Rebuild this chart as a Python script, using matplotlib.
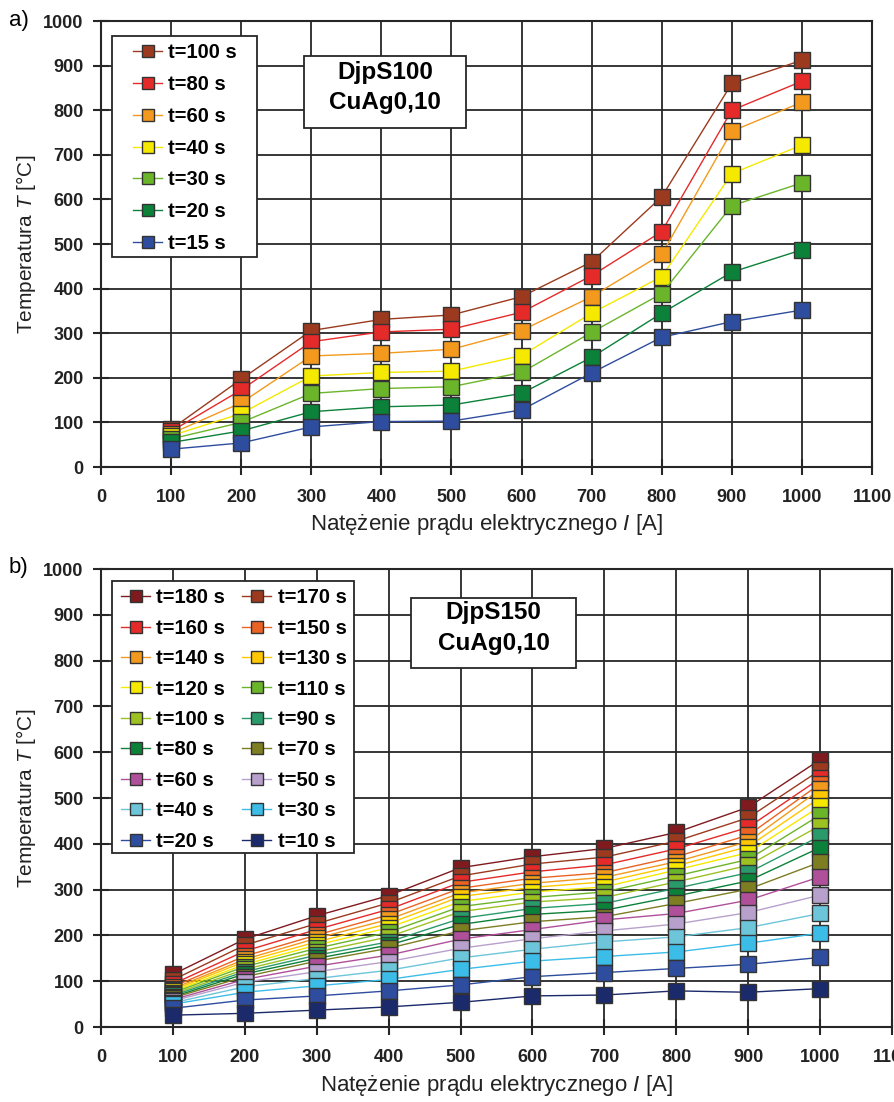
import matplotlib
matplotlib.use('Agg')
import matplotlib.pyplot as plt
from matplotlib.patches import Rectangle
from matplotlib import font_manager

# current values (A)
current = [100, 200, 300, 400, 500, 600, 700, 800, 900, 1000]

# panel a) DjpS100 CuAg0,10
labels_a = ['t=100 s', 't=80 s', 't=60 s', 't=40 s', 't=30 s', 't=20 s', 't=15 s']
temps_a = [
    [85, 197, 306, 331, 341, 382, 460, 606, 860, 912],
    [80, 173, 281, 303, 309, 347, 429, 528, 800, 865],
    [75, 144, 249, 255, 264, 306, 382, 477, 753, 818],
    [70, 120, 204, 212, 215, 250, 345, 427, 658, 722],
    [63, 100, 165, 176, 180, 212, 302, 389, 586, 637],
    [55, 81, 124, 135, 139, 165, 246, 345, 437, 487],
    [40, 54, 90, 102, 103, 128, 211, 291, 326, 352],
]
colors_a = ['#9B3A1E', '#E52A2A', '#F39A1E', '#F5E900', '#6BB52A', '#0B8139', '#2E4D9E']

# panel b) DjpS150 CuAg0,10
labels_b = ['t=180 s', 't=170 s', 't=160 s', 't=150 s', 't=140 s', 't=130 s',
            't=120 s', 't=110 s', 't=100 s', 't=90 s', 't=80 s', 't=70 s',
            't=60 s', 't=50 s', 't=40 s', 't=30 s', 't=20 s', 't=10 s']
temps_b = [
    [115, 192, 243, 287, 348, 372, 390, 425, 480, 584],
    [103, 179, 226, 271, 330, 356, 371, 406, 457, 561],
    [94, 166, 213, 257, 316, 339, 354, 389, 436, 543],
    [88, 155, 201, 245, 303, 325, 337, 372, 419, 531],
    [84, 148, 194, 235, 293, 314, 327, 361, 405, 519],
    [81, 143, 186, 226, 285, 305, 317, 352, 394, 501],
    [78, 137, 179, 217, 274, 295, 306, 343, 381, 482],
    [75, 132, 172, 207, 263, 283, 295, 330, 366, 463],
    [72, 126, 164, 197, 252, 273, 283, 317, 353, 440],
    [69, 121, 157, 186, 237, 259, 270, 303, 337, 417],
    [66, 116, 150, 179, 224, 246, 255, 286, 319, 392],
    [64, 110, 144, 172, 210, 230, 241, 270, 301, 360],
    [60, 104, 133, 157, 192, 213, 234, 248, 277, 328],
    [57, 98, 121, 143, 172, 193, 210, 225, 250, 288],
    [53, 88, 106, 124, 151, 170, 186, 197, 217, 248],
    [50, 76, 90, 104, 126, 144, 154, 164, 183, 205],
    [41, 59, 68, 79, 92, 110, 119, 128, 137, 152],
    [26, 30, 37, 44, 54, 68, 70, 79, 76, 84],
]
colors_b = ['#7F1A1E', '#9B3A1E', '#E52A2A', '#EB6322', '#F39A1E', '#FFC700',
            '#F5E900', '#6BB52A', '#9DC121', '#2A9A6A', '#0B8139', '#7D7D22',
            '#B0509A', '#B8A0CC', '#6CC5D8', '#3CBDE8', '#2E4D9E', '#1B2A6B']

xticks = list(range(0, 1200, 100))
yticks = list(range(0, 1100, 100))

names = {f.name for f in font_manager.fontManager.ttflist}
narrow = 'Liberation Sans Narrow' if 'Liberation Sans Narrow' in names else 'Liberation Sans'

plt.rcParams['font.family'] = ['Liberation Sans', 'DejaVu Sans']
plt.rcParams['mathtext.fontset'] = 'custom'
plt.rcParams['mathtext.rm'] = narrow
plt.rcParams['mathtext.it'] = narrow + ':italic'

GRID = '#262626'

fig = plt.figure(figsize=(8.94, 11.02), dpi=100)


def style_axes(ax):
    ax.set_xlim(0, 1100)
    ax.set_ylim(0, 1000)
    ax.set_xticks(xticks)
    ax.set_yticks(yticks)
    ax.grid(True, color=GRID, linewidth=1.3)
    ax.set_axisbelow(True)
    for s in ax.spines.values():
        s.set_color(GRID)
        s.set_linewidth(1.5)
    ax.tick_params(direction='inout', length=11, width=1.5, color=GRID,
                   labelsize=13, pad=7)
    ax.tick_params(axis='x', pad=10)
    for lab in ax.get_xticklabels() + ax.get_yticklabels():
        lab.set_fontweight('bold')
        lab.set_color('#222222')
    ax.set_xlabel('Natężenie prądu elektrycznego $\\mathit{I}$ [A]',
                  family=narrow, fontsize=16, labelpad=5, color='#222222')
    ax.set_ylabel('Temperatura $\\mathit{T}$ [°C]', family=narrow,
                  fontsize=15, labelpad=4, color='#222222')


def draw_series(ax, temps, colors, labels, ms):
    handles = []
    for t, c, lab in zip(temps, colors, labels):
        h, = ax.plot(current, t, color=c, linewidth=1.0, marker='s',
                     markersize=ms, markerfacecolor=c, markeredgecolor='#333333',
                     markeredgewidth=1.0, label=lab)
        handles.append(h)
    return handles


def box(ax, x0, y0, x1, y1, transform):
    ax.add_patch(Rectangle((x0, y0), x1 - x0, y1 - y0, transform=transform,
                           facecolor='white', edgecolor=GRID, linewidth=1.3,
                           zorder=4.5, clip_on=False))


# ---- panel a
ax1 = fig.add_axes([0.113, 0.5762, 0.8624, 0.4047])
style_axes(ax1)
h1 = draw_series(ax1, temps_a, colors_a, labels_a, 11)
box(ax1, 0.0143, 0.4709, 0.2023, 0.9664, ax1.transAxes)
ax1.legend(handles=h1, loc='upper left', bbox_to_anchor=(0.0415, 0.951),
           prop={'weight': 'bold', 'size': 14.5}, frameon=False,
           handlelength=1.45, handletextpad=0.3, labelspacing=0.64,
           borderpad=0, borderaxespad=0, markerscale=0.8)
box(ax1, 290, 760, 521, 921, ax1.transData)
ax1.text(405, 851, 'DjpS100\nCuAg0,10', ha='center', va='center',
         fontsize=17.5, fontweight='bold', linespacing=1.43, zorder=6)
fig.text(0.010, 0.981, 'a)', family=narrow, fontsize=16, ha='left', va='center')

# ---- panel b
ax2 = fig.add_axes([0.113, 0.068, 0.8848, 0.4156])
style_axes(ax2)
h2 = draw_series(ax2, temps_b, colors_b, labels_b, 11.5)
order = h2[0::2] + h2[1::2]
box(ax2, 0.0139, 0.3799, 0.3198, 0.9738, ax2.transAxes)
ax2.legend(handles=order, loc='upper left', bbox_to_anchor=(0.0253, 0.9585),
           ncol=2, prop={'weight': 'bold', 'size': 14.5}, frameon=False,
           handlelength=1.45, handletextpad=0.3, labelspacing=0.57,
           columnspacing=0.85, borderpad=0, borderaxespad=0, markerscale=0.8)
box(ax2, 431, 784, 661, 937, ax2.transData)
ax2.text(546, 871, 'DjpS150\nCuAg0,10', ha='center', va='center',
         fontsize=17.5, fontweight='bold', linespacing=1.43, zorder=6)
fig.text(0.010, 0.485, 'b)', family=narrow, fontsize=16, ha='left', va='center')

fig.savefig('out.png', dpi=100)
